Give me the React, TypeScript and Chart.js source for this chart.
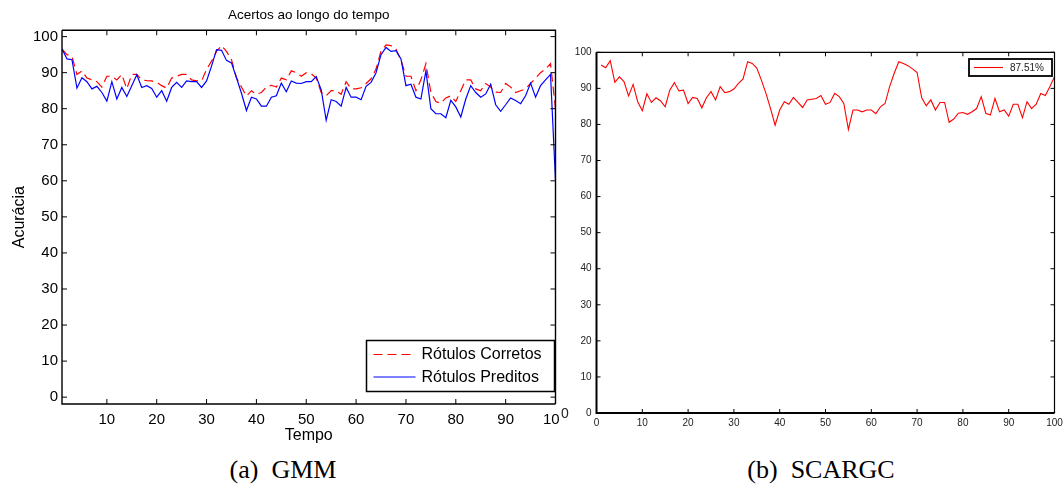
import React, { useEffect, useRef } from "react";
import { Chart, registerables } from "chart.js";
Chart.register(...registerables);

// ---------- data ----------
const gmmTime = Array.from({ length: 100 }, (_, i) => i + 1);
const gmmCorrect = [
  96.5, 95, 94.5, 89.5, 90.5, 88.5, 88, 87.5, 86, 89,
  89, 88, 89.5, 85.5, 89.5, 89.5, 88, 87.8, 87.7, 87.3,
  86.4, 85.7, 88.5, 89, 89.5, 89.5, 88, 87.7, 87.7, 90.9,
  93.2, 95.9, 97.5, 95.9, 93.6, 88.6, 86, 83.5, 85, 84,
  84.5, 86, 86.5, 86, 88.5, 88, 90.5, 90, 89, 90,
  89.7, 88.5, 84.5, 83.6, 85, 85, 84, 87.5, 85.5, 85.5,
  85.8, 87, 88.3, 91, 96, 97.7, 97.5, 96.5, 93.5, 89,
  89, 85, 88, 92.5, 84.5, 82, 81.5, 83, 83.6, 82,
  85, 88, 88, 85.5, 85, 87, 86, 84.6, 84.5, 87,
  86, 84.5, 85, 85.5, 87, 88.5, 90, 91, 92.5, 80,
];
const gmmPredicted = [
  96.6, 93.8, 93.6, 85.7, 88.6, 87.5, 85.5, 86.2, 84.5, 82.1,
  87.5, 82.7, 85.9, 83.4, 86.4, 89.4, 85.9, 86.4, 85.6, 83.2,
  85, 82.1, 85.9, 87.3, 85.9, 87.7, 87.5, 87.5, 85.9, 87.7,
  91.8, 96.4, 96.2, 93.4, 92.7, 88.6, 84.3, 79.5, 83.2, 82.7,
  80.7, 80.7, 83.2, 83.6, 87.1, 84.7, 87.7, 87.1, 87, 87.5,
  87.5, 88.9, 85.2, 76.8, 82.5, 82, 80.7, 85.9, 83.2, 83.2,
  82.5, 86.2, 87.3, 90, 95, 97, 95.9, 96.1, 93.8, 86.4,
  86.8, 83.2, 82.7, 90.5, 80, 78.6, 78.6, 77.5, 82.3, 80.5,
  77.7, 82.7, 86.4, 84.5, 83.2, 84.1, 86.8, 81.1, 79.3, 81.1,
  83, 82.3, 81.4, 83.6, 87.1, 83.2, 86.4, 88, 89.5, 60,
];
const scargcTime = Array.from({ length: 100 }, (_, i) => i + 1);
const scargcAcc = [
  96.5, 95.7, 97.7, 91.7, 93.2, 91.9, 87.9, 91.1, 86.3, 83.8,
  88.5, 86.1, 87.4, 86.5, 84.9, 89.5, 91.6, 89.3, 89.5, 85.8,
  87.5, 87.2, 84.6, 87.4, 89.1, 86.8, 90.5, 88.8, 89.1, 89.8,
  91.4, 92.6, 97.4, 96.9, 95.6, 92.3, 88.6, 84.4, 79.8, 84,
  86.3, 85.6, 87.5, 86.1, 84.7, 86.8, 87, 87.2, 88, 85.6,
  86.1, 88.6, 87.7, 85.8, 78.6, 84, 84, 83.5, 84, 84,
  83, 84.9, 85.8, 90.5, 94.2, 97.4, 96.9, 96.3, 95.4, 94.4,
  87.4, 85.2, 86.8, 84, 86.1, 86.1, 80.6, 81.5, 83.1, 83.3,
  82.8, 83.5, 84.4, 87.7, 83.1, 82.6, 87.2, 83.5, 84, 82.3,
  85.6, 85.6, 81.9, 86.3, 84.4, 85.6, 88.6, 88, 90.5, 93.2,
];
const gmmXTicks = [10, 20, 30, 40, 50, 60, 70, 80, 90, 100];
const gmmYTicks = [0, 10, 20, 30, 40, 50, 60, 70, 80, 90, 100];
const scargcXTicks = [0, 10, 20, 30, 40, 50, 60, 70, 80, 90, 100];
const scargcYTicks = [0, 10, 20, 30, 40, 50, 60, 70, 80, 90, 100];
const gmmLabels = ["Rótulos Corretos", "Rótulos Preditos"];
const scargcLabel = "87.51%";

const SANS = "'Liberation Sans', Arial, Helvetica, sans-serif";
const SERIF = "'Liberation Serif', 'Times New Roman', serif";

const framePlugin = {
  id: "frame",
  afterDraw(chart: any, _args: any, opts: any) {
    const { ctx, chartArea } = chart;
    const { left, right, top, bottom } = chartArea;
    const xs = chart.scales.x;
    const ys = chart.scales.y;
    ctx.save();
    ctx.strokeStyle = "#000";
    ctx.setLineDash([]);
    ctx.lineWidth = opts.tickWidth;
    const tl = opts.tickLen;
    ctx.beginPath();
    xs.ticks.forEach((t: any) => {
      const px = xs.getPixelForValue(t.value);
      ctx.moveTo(px, bottom);
      ctx.lineTo(px, bottom - tl);
      ctx.moveTo(px, top);
      ctx.lineTo(px, top + tl);
    });
    ys.ticks.forEach((t: any) => {
      const py = ys.getPixelForValue(t.value);
      ctx.moveTo(left, py);
      ctx.lineTo(left + tl, py);
      ctx.moveTo(right, py);
      ctx.lineTo(right - tl, py);
    });
    ctx.stroke();
    // frame
    ctx.lineWidth = opts.frameTop;
    ctx.beginPath();
    ctx.moveTo(left, top);
    ctx.lineTo(right, top);
    ctx.lineTo(right, bottom);
    ctx.stroke();
    ctx.lineWidth = opts.frameLeft;
    ctx.beginPath();
    ctx.moveTo(left, top);
    ctx.lineTo(left, bottom);
    ctx.lineTo(right, bottom);
    ctx.stroke();

    // legend
    const lg = opts.legend;
    if (lg) {
      const bx = lg.fromRight ? right - lg.right - lg.w : left + lg.right;
      const by = lg.fromBottom ? bottom - lg.bottom - lg.h : top + lg.top;
      ctx.fillStyle = "#fff";
      ctx.fillRect(bx, by, lg.w, lg.h);
      ctx.lineWidth = lg.border;
      ctx.strokeStyle = "#000";
      ctx.strokeRect(bx, by, lg.w, lg.h);
      const dsets = chart.data.datasets;
      lg.items.forEach((idx: number, k: number) => {
        const ds = dsets[idx];
        const cy = by + lg.rowY[k];
        ctx.strokeStyle = ds.borderColor;
        ctx.lineWidth = ds.borderWidth;
        ctx.setLineDash(ds.borderDash || []);
        ctx.beginPath();
        ctx.moveTo(bx + lg.lineX0, cy);
        ctx.lineTo(bx + lg.lineX1, cy);
        ctx.stroke();
        ctx.setLineDash([]);
        ctx.fillStyle = lg.color;
        ctx.font = `${lg.fontSize}px ${SANS}`;
        ctx.textBaseline = "middle";
        ctx.textAlign = "left";
        ctx.fillText(ds.label, bx + lg.textX, cy + 0.5);
      });
    }
    ctx.restore();
  },
};

function GmmChart() {
  const ref = useRef<HTMLCanvasElement | null>(null);
  useEffect(() => {
    if (!ref.current) return;
    const chart = new Chart(ref.current, {
      type: "line",
      data: {
        datasets: [
          {
            label: gmmLabels[0],
            data: gmmTime.map((t, i) => ({ x: t, y: gmmCorrect[i] })),
            borderColor: "#ff0000",
            borderWidth: 1.2,
            borderDash: [9, 5],
            pointRadius: 0,
            tension: 0,
            fill: false,
            order: 2,
          },
          {
            label: gmmLabels[1],
            data: gmmTime.map((t, i) => ({ x: t, y: gmmPredicted[i] })),
            borderColor: "#0000ff",
            borderWidth: 1.2,
            pointRadius: 0,
            tension: 0,
            fill: false,
            order: 1,
          },
        ],
      },
      options: {
        animation: false,
        responsive: false,
        devicePixelRatio: 1,
        events: [],
        layout: { padding: { left: 0, right: 3.5, top: 0, bottom: 0 } },
        plugins: {
          legend: { display: false },
          tooltip: { enabled: false },
          title: {
            display: true,
            text: "Acertos ao longo do tempo",
            fullSize: false,
            color: "#000",
            font: { family: SANS, size: 13.5, weight: "normal" as any },
            padding: { top: 7.4, bottom: 6.7 },
          },
          frame: {
            tickLen: 5,
            tickWidth: 1,
            frameTop: 1.4,
            frameLeft: 1.4,
            legend: {
              fromRight: true,
              fromBottom: true,
              right: 1,
              bottom: 12.5,
              w: 188,
              h: 51,
              border: 1.5,
              items: [0, 1],
              rowY: [14, 36.5],
              lineX0: 7,
              lineX1: 49,
              textX: 55,
              fontSize: 16,
              color: "#000",
            },
          },
        } as any,
        scales: {
          x: {
            type: "linear",
            min: 1,
            max: 100,
            grid: { display: false, drawTicks: false },
            border: { display: false },
            ticks: {
              color: "#000",
              font: { family: SANS, size: 15 },
              padding: 7,
              autoSkip: false,
              maxRotation: 0,
            },
            afterBuildTicks: (s: any) => {
              s.ticks = gmmXTicks.map((v) => ({ value: v }));
            },
            afterFit: (s: any) => {
              s.height = 46;
              s.paddingLeft = 0;
              s.paddingRight = 0;
            },
            title: {
              display: true,
              text: "Tempo",
              color: "#000",
              font: { family: SANS, size: 16 },
              padding: { top: 0, bottom: 4.4 },
            },
          },
          y: {
            type: "linear",
            min: -1.9,
            max: 101.75,
            grid: { display: false, drawTicks: false },
            border: { display: false },
            ticks: {
              color: "#000",
              font: { family: SANS, size: 15 },
              padding: 4,
              autoSkip: false,
            },
            afterBuildTicks: (s: any) => {
              s.ticks = gmmYTicks.map((v) => ({ value: v }));
            },
            afterFit: (s: any) => {
              s.width = 62;
              s.paddingTop = 0;
              s.paddingBottom = 0;
            },
            title: {
              display: true,
              text: "Acurácia",
              color: "#000",
              font: { family: SANS, size: 16 },
              padding: { top: 9.5, bottom: 0 },
            },
          },
        },
      },
      plugins: [framePlugin as any],
    });
    return () => chart.destroy();
  }, []);
  return (
    <canvas
      ref={ref}
      width={559}
      height={450}
      style={{ position: "absolute", left: 0, top: 0, width: 559, height: 450 }}
    />
  );
}

function ScargcChart() {
  const ref = useRef<HTMLCanvasElement | null>(null);
  useEffect(() => {
    if (!ref.current) return;
    const chart = new Chart(ref.current, {
      type: "line",
      data: {
        datasets: [
          {
            label: scargcLabel,
            data: scargcTime.map((t, i) => ({ x: t, y: scargcAcc[i] })),
            borderColor: "#ff0000",
            borderWidth: 1.1,
            pointRadius: 0,
            tension: 0,
            fill: false,
          },
        ],
      },
      options: {
        animation: false,
        responsive: false,
        devicePixelRatio: 1,
        events: [],
        layout: { padding: { left: 0, right: 8.5, top: 52.3, bottom: 0 } },
        plugins: {
          legend: { display: false },
          tooltip: { enabled: false },
          title: { display: false },
          frame: {
            tickLen: 4,
            tickWidth: 1,
            frameTop: 1.2,
            frameLeft: 2,
            legend: {
              fromRight: true,
              fromBottom: false,
              right: 2.5,
              top: 6.7,
              w: 83,
              h: 17,
              border: 1.8,
              items: [0],
              rowY: [8.5],
              lineX0: 5,
              lineX1: 34,
              textX: 41,
              fontSize: 10,
              color: "#222",
            },
          },
        } as any,
        scales: {
          x: {
            type: "linear",
            min: 0,
            max: 100,
            grid: { display: false, drawTicks: false },
            border: { display: false },
            ticks: {
              color: "#222",
              font: { family: SANS, size: 10 },
              padding: 4.5,
              autoSkip: false,
              maxRotation: 0,
            },
            afterBuildTicks: (s: any) => {
              s.ticks = scargcXTicks.map((v) => ({ value: v }));
            },
            afterFit: (s: any) => {
              s.height = 37;
              s.paddingLeft = 0;
              s.paddingRight = 0;
            },
          },
          y: {
            type: "linear",
            min: 0,
            max: 100,
            grid: { display: false, drawTicks: false },
            border: { display: false },
            ticks: {
              color: "#222",
              font: { family: SANS, size: 10 },
              padding: 5,
              autoSkip: false,
            },
            afterBuildTicks: (s: any) => {
              s.ticks = scargcYTicks.map((v) => ({ value: v }));
            },
            afterFit: (s: any) => {
              s.width = 36.5;
              s.paddingTop = 0;
              s.paddingBottom = 0;
            },
          },
        },
      },
      plugins: [framePlugin as any],
    });
    return () => chart.destroy();
  }, []);
  return (
    <canvas
      ref={ref}
      width={503}
      height={450}
      style={{ position: "absolute", left: 560, top: 0, width: 503, height: 450 }}
    />
  );
}

export default function App() {
  return (
    <div
      style={{
        position: "absolute",
        left: 0,
        top: 0,
        width: 1063,
        height: 491,
        background: "#fff",
        overflow: "hidden",
      }}
    >
      <GmmChart />
      <ScargcChart />
      <div
        style={{
          position: "absolute",
          left: 561,
          top: 403,
          fontFamily: SANS,
          fontSize: 14,
          lineHeight: "20px",
          color: "#222",
        }}
      >
        0
      </div>
      <div
        style={{
          position: "absolute",
          left: 133,
          top: 455,
          width: 300,
          textAlign: "center",
          fontFamily: SERIF,
          fontSize: 26,
          lineHeight: "30px",
          color: "#000",
          whiteSpace: "pre",
        }}
      >
        (a)  GMM
      </div>
      <div
        style={{
          position: "absolute",
          left: 671,
          top: 455,
          width: 300,
          textAlign: "center",
          fontFamily: SERIF,
          fontSize: 26,
          lineHeight: "30px",
          color: "#000",
          whiteSpace: "pre",
        }}
      >
        (b)  SCARGC
      </div>
    </div>
  );
}
